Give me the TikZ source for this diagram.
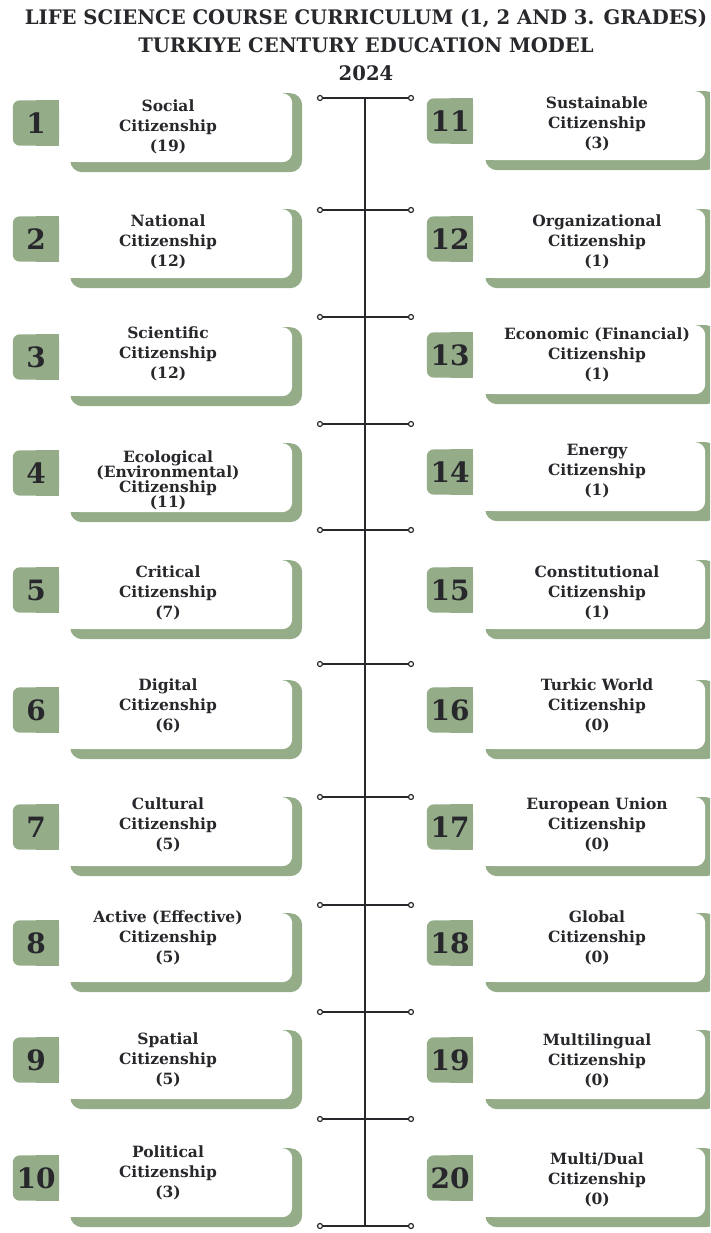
\documentclass[tikz,border=0pt]{standalone}
\usepackage{fontspec}
\setmainfont{DejaVu Serif}
\newfontfamily\headfont{DejaVu Serif}[FakeStretch=0.98]
\usetikzlibrary{positioning,backgrounds}
\definecolor{sage}{RGB}{148,172,136}
\definecolor{ink}{RGB}{40,40,44}
\tikzstyle{headline} = [
  align=center,
  text=ink,
  font=\headfont\fontsize{20}{28}\selectfont\bfseries,
]
\tikzstyle{spine} = [
  draw=ink,
  line width=1.6pt,
]
\tikzstyle{joint} = [
  circle,
  draw=ink,
  fill=white,
  line width=1.2pt,
  inner sep=0pt,
  minimum size=5pt,
]
\tikzstyle{numtag} = [
  minimum width=46pt,
  minimum height=45pt,
  inner sep=0pt,
  text=ink,
  font=\fontsize{28}{28}\selectfont\bfseries,
]
\tikzstyle{cardshade} = [
  fill=sage,
  rounded corners=12pt,
  minimum height=79pt,
  inner sep=0pt,
  anchor=north west,
]
\tikzstyle{card} = [
  fill=white,
  rounded corners=10pt,
  minimum height=69pt,
  inner sep=0pt,
  anchor=north west,
]
\tikzstyle{cardtext} = [
  align=center,
  text=ink,
  font=\fontsize{15.5}{20}\selectfont\bfseries,
]

\begin{document}
\begin{tikzpicture}[
    x=1pt,
    y=-1pt,
  ]
  \useasboundingbox (0,0) rectangle (710,1233);
  \clip (0,0) rectangle (710,1233);
  \node[headline] (title) at (366,45)
    {LIFE SCIENCE COURSE CURRICULUM (1, 2 AND 3. GRADES)\\
     TURKIYE CENTURY EDUCATION MODEL\\2024};
  % timeline in the middle
  \coordinate (spinetop) at (365,98);
  \coordinate (spinebottom) at (365,1226);
  \draw[spine] (spinetop) -- (spinebottom);
  \foreach \i/\y in {1/98,2/210,3/317,4/424,5/530,6/664,7/797,8/905,9/1012,10/1119,11/1226} {
    \node[joint] (jl\i) at (320,\y) {};
    \node[joint] (jr\i) at (411,\y) {};
    \draw[spine] (jl\i) -- (jr\i);
  }
  % left column
  \foreach \n/\t/\ty/\txt in {
      1/93/127/{Social\\Citizenship\\(19)},
      2/209/242/{National\\Citizenship\\(12)},
      3/327/354/{Scientific\\Citizenship\\(12)},
      4/443/480/{Ecological\\[-5pt](Environmental)\\[-5pt]Citizenship\\[-5pt](11)},
      5/560/593/{Critical\\Citizenship\\(7)},
      6/680/706/{Digital\\Citizenship\\(6)},
      7/797/825/{Cultural\\Citizenship\\(5)},
      8/913/938/{Active (Effective)\\Citizenship\\(5)},
      9/1030/1060/{Spatial\\Citizenship\\(5)},
      10/1148/1173/{Political\\Citizenship\\(3)}} {
    \node[cardshade, minimum width=232pt] (shade\n) at (70,\t) {};
    \node[card, minimum width=222pt] (card\n) at (70,\t) {};
    \fill[white] (card\n.north west) rectangle (card\n.south);
    \node[cardtext] (txt\n) at (168,\ty) {\txt};
    \node[numtag] (num\n) at (36,\t+30) {\n};
    \begin{scope}[on background layer]
      \fill[sage, rounded corners=7pt] (num\n.north west) rectangle (num\n.south east);
      \fill[sage] (num\n.north) rectangle (num\n.south east);
    \end{scope}
  }
  % right column
  \foreach \n/\t/\ty/\txt in {
      11/91/124/{Sustainable\\Citizenship\\(3)},
      12/209/242/{Organizational\\Citizenship\\(1)},
      13/325/355/{Economic (Financial)\\Citizenship\\(1)},
      14/442/471/{Energy\\Citizenship\\(1)},
      15/560/593/{Constitutional\\Citizenship\\(1)},
      16/680/706/{Turkic World\\Citizenship\\(0)},
      17/797/825/{European Union\\Citizenship\\(0)},
      18/913/938/{Global\\Citizenship\\(0)},
      19/1030/1061/{Multilingual\\Citizenship\\(0)},
      20/1148/1180/{Multi/Dual\\Citizenship\\(0)}} {
    \node[cardshade, minimum width=233pt] (shade\n) at (485,\t) {};
    \node[card, minimum width=220pt] (card\n) at (485,\t) {};
    \fill[white] (card\n.north west) rectangle (card\n.south);
    \node[cardtext] (txt\n) at (597,\ty) {\txt};
    \node[numtag] (num\n) at (450,\t+30) {\n};
    \begin{scope}[on background layer]
      \fill[sage, rounded corners=7pt] (num\n.north west) rectangle (num\n.south east);
      \fill[sage] (num\n.north) rectangle (num\n.south east);
    \end{scope}
  }
\end{tikzpicture}
\end{document}
